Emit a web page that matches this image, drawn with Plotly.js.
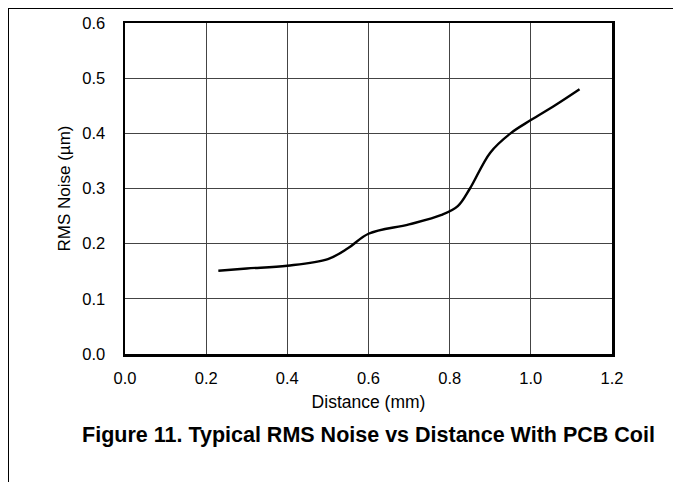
<!DOCTYPE html>
<html><head><meta charset="utf-8">
<script src="https://cdn.plot.ly/plotly-3.0.1.min.js"></script>
<style>
html,body{margin:0;padding:0;background:#fff;}
#wrap{position:relative;width:673px;height:482px;}
#chart{position:absolute;left:0;top:0;width:673px;height:482px;}
#frame{position:absolute;left:8px;top:8px;width:665px;height:474px;border-left:1px solid #000;border-top:1px solid #000;pointer-events:none;}
</style></head>
<body><div id="wrap"><div id="chart"></div><div id="frame"></div></div>
<script>
const distance = [0.23, 0.30, 0.40, 0.50, 0.55, 0.60, 0.70, 0.78, 0.82, 0.85, 0.90, 0.95, 1.00, 1.06, 1.12];
const rmsNoise = [0.151, 0.155, 0.160, 0.172, 0.192, 0.218, 0.235, 0.252, 0.268, 0.300, 0.365, 0.400, 0.424, 0.451, 0.480];
const xTicks = [0.0, 0.2, 0.4, 0.6, 0.8, 1.0, 1.2];
const yTicks = [0.0, 0.1, 0.2, 0.3, 0.4, 0.5, 0.6];

const font = 'Liberation Sans, Arial, sans-serif';
Plotly.newPlot('chart', [{
  x: distance, y: rmsNoise, type: 'scatter', mode: 'lines',
  line: {color: '#000', width: 2.4, shape: 'spline', smoothing: 1},
  hoverinfo: 'skip'
}], {
  width: 673, height: 482,
  margin: {l: 125, r: 61, t: 23, b: 128},
  paper_bgcolor: '#fff', plot_bgcolor: '#fff',
  showlegend: false,
  font: {family: font, color: '#000', size: 16.5},
  title: {text: '<b>Figure 11. Typical RMS Noise vs Distance With PCB Coil</b>',
    font: {family: font, size: 21.5, color: '#000'},
    xref: 'paper', x: 0.5, xanchor: 'center', yref: 'container', y: 1 - 434/482, yanchor: 'middle'},
  xaxis: {range: [0, 1.2], tickvals: xTicks, ticktext: xTicks.map(v => v.toFixed(1)),
    showgrid: true, gridcolor: '#444', gridwidth: 1, zeroline: false,
    showline: true, linecolor: '#000', linewidth: 2.5, mirror: true, ticks: '',
    tickfont: {size: 16.5}, ticklabelstandoff: 8,
    title: {text: 'Distance (mm)', font: {size: 17.5}, standoff: 10}},
  yaxis: {range: [0, 0.6], tickvals: yTicks, ticktext: yTicks.map(v => v.toFixed(1)),
    showgrid: true, gridcolor: '#444', gridwidth: 1, zeroline: false,
    showline: true, linecolor: '#000', linewidth: 2.5, mirror: true, ticks: '',
    tickfont: {size: 16.5}, ticklabelstandoff: 14,
    title: {text: 'RMS Noise (µm)', font: {size: 17}, standoff: 8}}
}, {staticPlot: true});
</script></body></html>
